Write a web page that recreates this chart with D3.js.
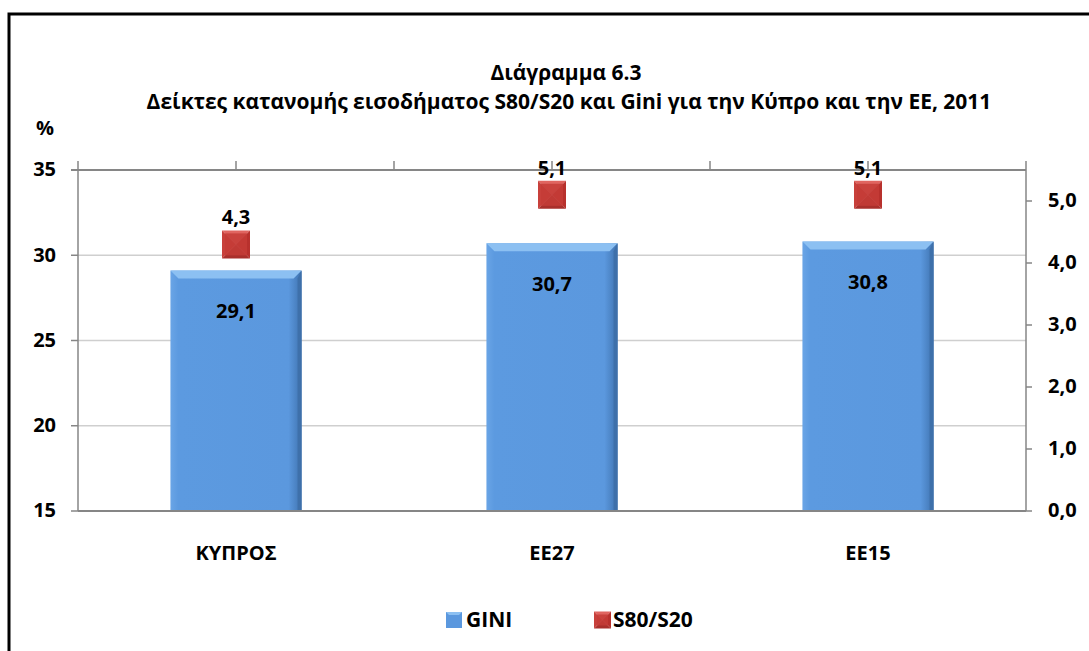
<!DOCTYPE html>
<meta charset="utf-8">
<title>Διάγραμμα 6.3</title>
<style>
	body { margin: 0; background: #fff; }
	svg text { font-family: 'Open Sans', 'Noto Sans', sans-serif; font-weight: bold; fill: #000; }
</style>
<body>
<div id="chart"></div>
<script src="https://d3js.org/d3.v7.min.js"></script>
<script>
// data
var categories = ["ΚΥΠΡΟΣ", "ΕΕ27", "ΕΕ15"];
var giniValues = [29.1, 30.7, 30.8];
var s80Values = [4.3, 5.1, 5.1];
var leftTicks = [15, 20, 25, 30, 35];
var rightTicks = [0, 1, 2, 3, 4, 5];

var width = 1089, height = 651;
var plotL = 78, plotR = 1026, plotT = 170, plotB = 511;

var fmt = function (v, d) { return v.toFixed(d).replace(".", ","); };

var svg = d3.select("#chart").append("svg")
	.attr("width", width)
	.attr("height", height);

var defs = svg.append("defs");
var gBar = defs.append("linearGradient").attr("id", "barGrad");
gBar.append("stop").attr("offset", "0%").attr("stop-color", "#6aa5e6");
gBar.append("stop").attr("offset", "6%").attr("stop-color", "#5c9ae0");
gBar.append("stop").attr("offset", "90%").attr("stop-color", "#5b98de");
gBar.append("stop").attr("offset", "100%").attr("stop-color", "#3f73b0");

// outer frame
svg.append("rect")
	.attr("x", 9).attr("y", 14)
	.attr("width", 1100).attr("height", 660)
	.attr("fill", "none").attr("stroke", "#000").attr("stroke-width", 3);

// scales
var x = d3.scaleBand().domain(categories).range([plotL, plotR])
	.paddingInner(0.585).paddingOuter(0.2925);
var yL = d3.scaleLinear().domain([15, 35]).range([plotB, plotT]);
var yR = d3.scaleLinear().domain([0, 5.5]).range([plotB, plotT]);

// gridlines
svg.append("g").selectAll("line")
	.data(leftTicks.filter(function (d) { return d > 15 && d < 35; }))
	.enter().append("line")
	.attr("x1", plotL).attr("x2", plotR)
	.attr("y1", function (d) { return yL(d); })
	.attr("y2", function (d) { return yL(d); })
	.attr("stroke", "#cfcfcf").attr("stroke-width", 1.5);

// title
svg.append("text").attr("x", 566).attr("y", 80)
	.attr("text-anchor", "middle").style("font-size", "21px")
	.text("Διάγραμμα 6.3");
svg.append("text").attr("x", 569).attr("y", 109)
	.attr("text-anchor", "middle").style("font-size", "21px")
	.text("Δείκτες κατανομής  εισοδήματος  S80/S20 και Gini για την Κύπρο και την ΕΕ, 2011");

svg.append("text").attr("x", 36).attr("y", 135).style("font-size", "20px").text("%");

// bars
var bars = svg.append("g").selectAll("g")
	.data(categories.map(function (c, i) { return { cat: c, v: giniValues[i] }; }))
	.enter().append("g");

bars.append("rect")
	.attr("x", function (d) { return x(d.cat); })
	.attr("y", function (d) { return yL(d.v); })
	.attr("width", x.bandwidth())
	.attr("height", function (d) { return plotB - yL(d.v); })
	.attr("fill", "url(#barGrad)");

// bevel on top of the bar
bars.append("path")
	.attr("d", function (d) {
		var x0 = x(d.cat), x1 = x0 + x.bandwidth(), y0 = yL(d.v), b = 8;
		return "M" + x0 + "," + y0 + "L" + x1 + "," + y0 + "L" + (x1 - b) + "," + (y0 + b) +
			"L" + (x0 + b) + "," + (y0 + b) + "Z";
	})
	.attr("fill", "#8cc0f2");
bars.append("path")
	.attr("d", function (d) {
		var x1 = x(d.cat) + x.bandwidth(), y0 = yL(d.v), b = 8;
		return "M" + x1 + "," + y0 + "L" + x1 + "," + plotB + "L" + (x1 - 4) + "," + plotB +
			"L" + (x1 - 4) + "," + (y0 + b) + "Z";
	})
	.attr("fill", "#3e70aa");

bars.append("text")
	.attr("x", function (d) { return x(d.cat) + x.bandwidth() / 2; })
	.attr("y", function (d) { return yL(d.v) + 42; })
	.attr("text-anchor", "middle").attr("dominant-baseline", "middle")
	.style("font-size", "20px")
	.text(function (d) { return fmt(d.v, 1); });

// axes lines
var axisColor = "#868686";
svg.append("line").attr("x1", plotL).attr("x2", plotR).attr("y1", plotB).attr("y2", plotB)
	.attr("stroke", axisColor).attr("stroke-width", 2);
svg.append("line").attr("x1", plotL - 7).attr("x2", plotR).attr("y1", plotT).attr("y2", plotT)
	.attr("stroke", axisColor).attr("stroke-width", 2);
svg.append("line").attr("x1", plotL).attr("x2", plotL).attr("y1", plotT).attr("y2", plotB)
	.attr("stroke", axisColor).attr("stroke-width", 1.5);
svg.append("line").attr("x1", plotR).attr("x2", plotR).attr("y1", plotT).attr("y2", plotB)
	.attr("stroke", axisColor).attr("stroke-width", 1.5);

// top (secondary) category ticks
var topTicks = d3.range(0, 7).map(function (k) { return plotL + k * x.step() / 2; });
svg.append("g").selectAll("line").data(topTicks).enter().append("line")
	.attr("x1", function (d) { return d; }).attr("x2", function (d) { return d; })
	.attr("y1", plotT - 9).attr("y2", plotT)
	.attr("stroke", axisColor).attr("stroke-width", 1.5);

// left axis
var gl = svg.append("g").selectAll("g").data(leftTicks).enter().append("g");
gl.append("line").attr("x1", plotL - 7).attr("x2", plotL)
	.attr("y1", function (d) { return yL(d); }).attr("y2", function (d) { return yL(d); })
	.attr("stroke", axisColor).attr("stroke-width", 1.5);
gl.append("text").attr("x", 56).attr("y", function (d) { return yL(d) + 1; })
	.attr("text-anchor", "end").attr("dominant-baseline", "middle")
	.style("font-size", "20px").text(function (d) { return d; });

// right axis
var gr = svg.append("g").selectAll("g").data(rightTicks).enter().append("g");
gr.append("line").attr("x1", plotR).attr("x2", plotR + 6)
	.attr("y1", function (d) { return yR(d); }).attr("y2", function (d) { return yR(d); })
	.attr("stroke", axisColor).attr("stroke-width", 1.5);
gr.append("text").attr("x", 1048).attr("y", function (d) { return yR(d) + 1; })
	.attr("dominant-baseline", "middle")
	.style("font-size", "20px").text(function (d) { return fmt(d, 1); });

// category labels
svg.append("g").selectAll("text").data(categories).enter().append("text")
	.attr("x", function (d) { return x(d) + x.bandwidth() / 2; })
	.attr("y", 555)
	.attr("text-anchor", "middle").attr("dominant-baseline", "middle")
	.style("font-size", "20px").text(function (d) { return d; });

// pyramid marker
function marker(g, cx, cy, s) {
	var h = s / 2;
	var pts = [[cx - h, cy - h], [cx + h, cy - h], [cx + h, cy + h], [cx - h, cy + h]];
	var cols = ["#e06560", "#b8312d", "#a9302c", "#c8403b"];
	for (var i = 0; i < 4; i++) {
		var a = pts[i], b = pts[(i + 1) % 4];
		g.append("path")
			.attr("d", "M" + a[0] + "," + a[1] + "L" + b[0] + "," + b[1] + "L" + cx + "," + cy + "Z")
			.attr("fill", cols[i]);
	}
	g.append("rect").attr("x", cx - h + 3).attr("y", cy - h + 3)
		.attr("width", s - 6).attr("height", s - 6).attr("fill", "#c43c37").attr("opacity", 0.85);
}

var pts = svg.append("g");
categories.forEach(function (c, i) {
	var cx = x(c) + x.bandwidth() / 2, cy = yR(s80Values[i]);
	marker(pts.append("g"), cx, cy, 28);
	pts.append("text").attr("x", cx).attr("y", cy - 20)
		.attr("text-anchor", "middle").style("font-size", "20px")
		.text(fmt(s80Values[i], 1));
});

// legend
var lg = svg.append("g");
lg.append("rect").attr("x", 446).attr("y", 612).attr("width", 16).attr("height", 16).attr("fill", "#5b98de");
lg.append("path").attr("d", "M446,612L462,612L459,615L449,615Z").attr("fill", "#8cc0f2");
lg.append("text").attr("x", 466).attr("y", 621).attr("dominant-baseline", "middle")
	.style("font-size", "21px").text("GINI");
marker(lg.append("g"), 602.5, 620, 17);
lg.append("text").attr("x", 613).attr("y", 621).attr("dominant-baseline", "middle")
	.style("font-size", "21px").text("S80/S20");
</script>
</body>
